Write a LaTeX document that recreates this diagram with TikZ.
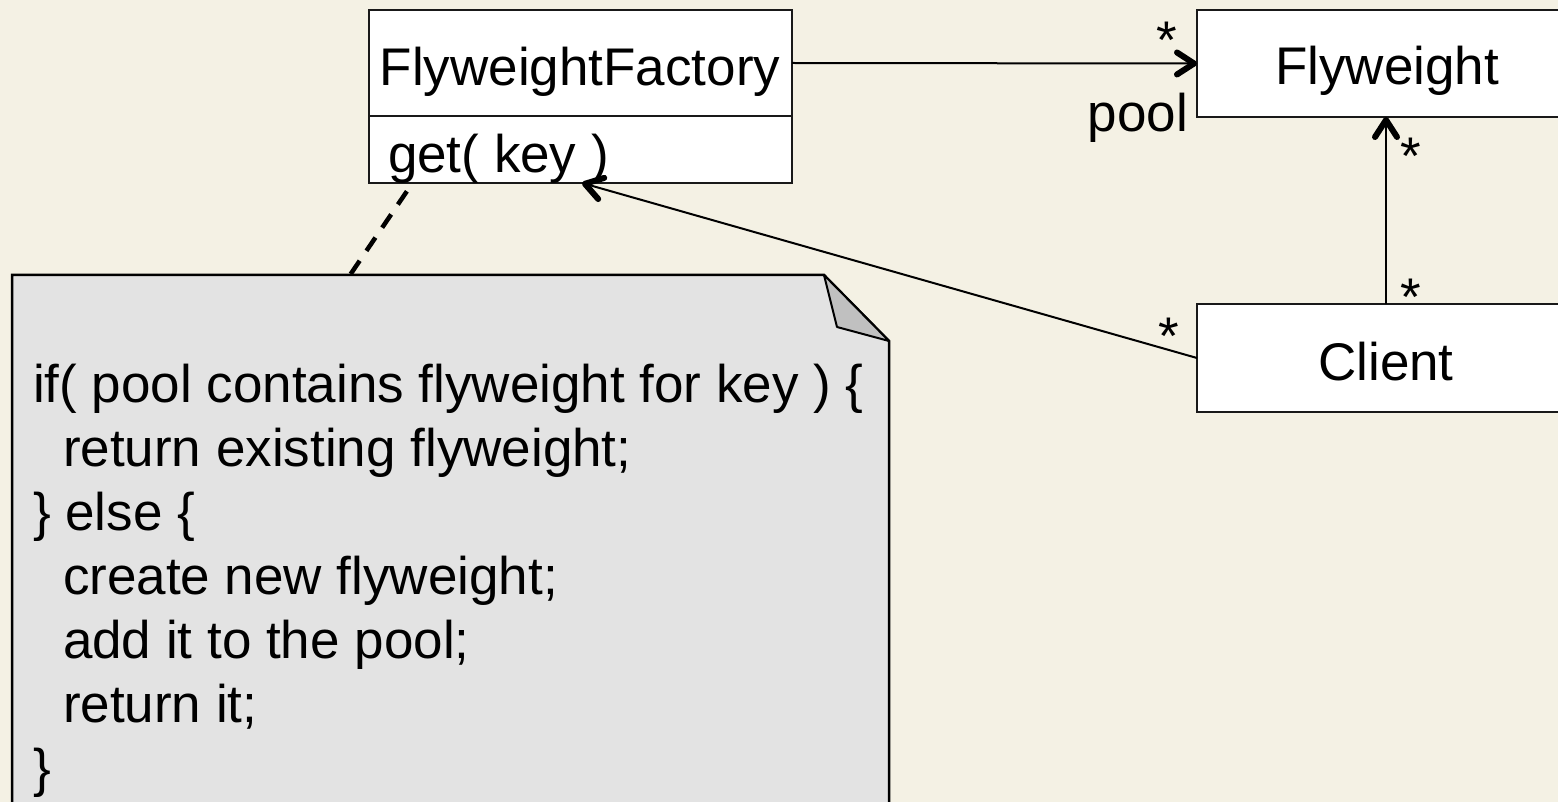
\documentclass[tikz,border=0pt]{standalone}
\usepackage{fontspec}
\setmainfont{Liberation Sans}
\usetikzlibrary{arrows.meta}
\definecolor{paper}{RGB}{244,241,228}
\definecolor{notefill}{RGB}{227,227,227}
\definecolor{foldfill}{RGB}{192,192,192}
\definecolor{edge}{RGB}{25,25,25}

\begin{document}
\begin{tikzpicture}[x=1pt,y=-1pt,
  classbox/.style={draw=edge, line width=2pt, fill=white, rectangle,
    inner sep=0pt, outer sep=0pt},
  umltext/.style={font=\fontsize{53}{64}\selectfont, inner sep=0pt,
    outer sep=0pt, anchor=base},
  codeline/.style={umltext, anchor=base west},
  link/.style={line width=2pt, draw=black},
  navto/.style={link, -{Straight Barb[length=17pt,width=22pt,line width=6pt,round]}},
  notelink/.style={line width=4.5pt, dash pattern=on 16pt off 12pt, dash phase=18pt}
]
% canvas
\fill[paper] (0,0) rectangle (1558,802);
\useasboundingbox (0,0) rectangle (1558,802);
\clip (0,0) rectangle (1558,802);

% classes
\node[classbox, minimum width=423pt, minimum height=106pt] (factory) at (580.5,63) {};
\node[classbox, minimum width=423pt, minimum height=67pt] (ops) at (580.5,149.5) {};
\node[classbox, minimum width=403pt, minimum height=107pt] (flyweight) at (1398.5,63.5) {};
\node[classbox, minimum width=403pt, minimum height=108pt] (client) at (1398.5,358) {};

\node[umltext] (factoryname) at (580,86) {FlyweightFactory};
\node[umltext, anchor=base west] (getop) at (388,173) {get( key )};
\node[umltext] (flyname) at (1387,85) {Flyweight};
\node[umltext] (clientname) at (1386,380) {Client};

% note with folded corner
\filldraw[fill=notefill, draw=black, line width=2.5pt, line join=miter]
  (12,275) -- (824,275) -- (889,341) -- (889,840) -- (12,840) -- cycle;
\filldraw[fill=foldfill, draw=black, line width=2pt, line join=round]
  (824,275) -- (837,327) -- (889,341) -- cycle;
\coordinate (notetop) at (350,275);

\node[codeline] (c1) at (33,402) {if( pool contains flyweight for key ) \{};
\node[codeline] (c2) at (63,466) {return existing flyweight;};
\node[codeline] (c3) at (33,530) {\} else \{};
\node[codeline] (c4) at (63,594) {create new flyweight;};
\node[codeline] (c5) at (63,658) {add it to the pool;};
\node[codeline] (c6) at (63,722) {return it;};
\node[codeline] (c7) at (33,786) {\}};

% associations
\coordinate (stem) at (1386,0);
\draw[navto] (factory.east) -- (flyweight.west);
\draw[navto] (client.north -| stem) -- (flyweight.south -| stem);
\draw[navto] (client.west) -- ([xshift=1.5pt]ops.south);
\draw[notelink] ([xshift=-168pt]ops.south) -- (notetop);

% multiplicities and role
\node[umltext] (m1) at (1167,59) {*};
\node[umltext, anchor=base east] (role) at (1188,132) {pool};
\node[umltext] (m2) at (1411,175) {*};
\node[umltext] (m3) at (1411,316) {*};
\node[umltext] (m4) at (1169,354) {*};
\end{tikzpicture}
\end{document}
